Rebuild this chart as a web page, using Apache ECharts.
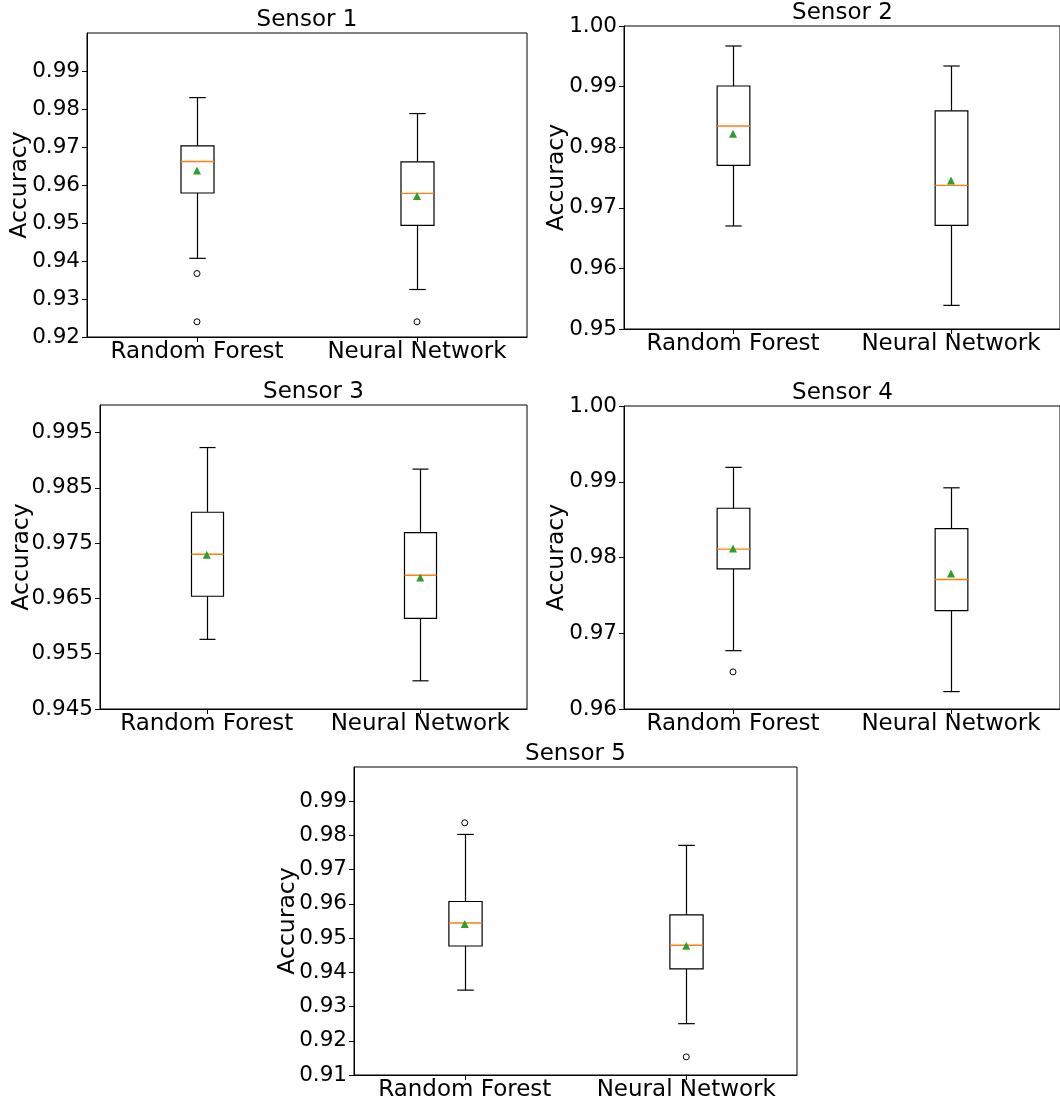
<!DOCTYPE html>
<html>
<head>
<meta charset="utf-8">
<script src="https://cdn.jsdelivr.net/npm/echarts@6/dist/echarts.min.js"></script>
<style>
html, body { margin: 0; padding: 0; background: #fff; }
#chart { width: 1060px; height: 1104px; }
</style>
</head>
<body>
<div id="chart"></div>
<script>
// ---------------- DATA ----------------
const categories = ['Random Forest', 'Neural Network'];
const titles = ['Sensor 1', 'Sensor 2', 'Sensor 3', 'Sensor 4', 'Sensor 5'];
const yAxisName = 'Accuracy';

// y tick labels per panel
const yTicks1 = ['0.92', '0.93', '0.94', '0.95', '0.96', '0.97', '0.98', '0.99'];
const yTicks2 = ['0.95', '0.96', '0.97', '0.98', '0.99', '1.00'];
const yTicks3 = ['0.945', '0.955', '0.965', '0.975', '0.985', '0.995'];
const yTicks4 = ['0.96', '0.97', '0.98', '0.99', '1.00'];
const yTicks5 = ['0.91', '0.92', '0.93', '0.94', '0.95', '0.96', '0.97', '0.98', '0.99'];
const yMins = [0.92, 0.95, 0.945, 0.96, 0.91];
const yMaxs = [1.0, 1.0, 1.0, 1.0, 1.0];

// box stats per category: [lower whisker, Q1, median, Q3, upper whisker]
const box1 = [[0.9407, 0.9579, 0.9662, 0.9703, 0.9830], [0.9325, 0.9494, 0.9578, 0.9661, 0.9788]];
const box2 = [[0.9670, 0.9770, 0.9835, 0.9901, 0.9967], [0.9539, 0.9671, 0.9737, 0.9860, 0.9934]];
const box3 = [[0.9576, 0.9654, 0.9730, 0.9806, 0.9923], [0.9501, 0.9614, 0.9692, 0.9769, 0.9884]];
const box4 = [[0.9677, 0.9785, 0.9811, 0.9865, 0.9919], [0.9623, 0.9730, 0.9771, 0.9838, 0.9892]];
const box5 = [[0.9348, 0.9477, 0.9544, 0.9607, 0.9803], [0.9250, 0.9410, 0.9479, 0.9568, 0.9771]];

// means per category
const mean1 = [0.9638, 0.9571];
const mean2 = [0.9822, 0.9745];
const mean3 = [0.9729, 0.9688];
const mean4 = [0.9812, 0.9779];
const mean5 = [0.9541, 0.9478];

// outliers: [category index, value]
const out1 = [[0, 0.9367], [0, 0.9240], [1, 0.9240]];
const out2 = [];
const out3 = [];
const out4 = [[0, 0.9649]];
const out5 = [[0, 0.9837], [1, 0.9153]];

// ---------------- LAYOUT / STYLE ----------------
const FONT = 'DejaVu Sans';
const grids = [
  { left: 87, top: 33, width: 440, height: 304 },
  { left: 624, top: 26, width: 437, height: 303 },
  { left: 100, top: 405, width: 427, height: 304 },
  { left: 624, top: 406, width: 437, height: 303 },
  { left: 354, top: 767, width: 443, height: 308 }
];
const nameGaps = [55, 55, 66, 55, 54];

const yTicksAll = [yTicks1, yTicks2, yTicks3, yTicks4, yTicks5];
const boxesAll = [box1, box2, box3, box4, box5];
const meansAll = [mean1, mean2, mean3, mean4, mean5];
const outAll = [out1, out2, out3, out4, out5];

function renderBox(params, api) {
  const ci = api.value(0);
  const lo = api.value(1), q1 = api.value(2), med = api.value(3), q3 = api.value(4), hi = api.value(5);
  const band = api.size([1, 0])[0];
  const bw = band * 0.15;
  const cw = bw * 0.5;
  const pLo = api.coord([ci, lo]);
  const pQ1 = api.coord([ci, q1]);
  const pMed = api.coord([ci, med]);
  const pQ3 = api.coord([ci, q3]);
  const pHi = api.coord([ci, hi]);
  const cx = Math.round(pLo[0]) + 0.5;
  const ls = { stroke: '#000', lineWidth: 1.2, fill: null };
  return {
    type: 'group',
    children: [
      { type: 'line', shape: { x1: cx, y1: pQ1[1], x2: cx, y2: pLo[1] }, style: ls },
      { type: 'line', shape: { x1: cx, y1: pQ3[1], x2: cx, y2: pHi[1] }, style: ls },
      { type: 'line', shape: { x1: cx - cw / 2, y1: pLo[1], x2: cx + cw / 2, y2: pLo[1] }, style: ls },
      { type: 'line', shape: { x1: cx - cw / 2, y1: pHi[1], x2: cx + cw / 2, y2: pHi[1] }, style: ls },
      { type: 'rect', shape: { x: cx - bw / 2, y: pQ3[1], width: bw, height: pQ1[1] - pQ3[1] },
        style: { stroke: '#000', fill: '#fff', lineWidth: 1.2 } },
      { type: 'line', shape: { x1: cx - bw / 2, y1: pMed[1], x2: cx + bw / 2, y2: pMed[1] },
        style: { stroke: '#ff7f0e', lineWidth: 1.4, fill: null } }
    ]
  };
}

const option = {
  animation: false,
  backgroundColor: '#fff',
  title: [],
  grid: [],
  xAxis: [],
  yAxis: [],
  series: []
};

grids.forEach((g, i) => {
  option.grid.push({
    left: g.left, top: g.top, width: g.width, height: g.height,
    show: true, borderColor: '#000', borderWidth: 1, backgroundColor: 'transparent',
    containLabel: false
  });
  option.title.push({
    text: titles[i],
    left: g.left + g.width / 2,
    top: g.top - 24,
    textAlign: 'center',
    padding: 0,
    textStyle: { fontFamily: FONT, fontSize: 23, fontWeight: 'normal', color: '#000' }
  });
  option.xAxis.push({
    gridIndex: i,
    type: 'category',
    data: categories,
    boundaryGap: true,
    axisLine: { show: true, lineStyle: { color: '#000', width: 1 } },
    axisTick: { show: true, alignWithLabel: true, length: 5, lineStyle: { color: '#000', width: 1 } },
    axisLabel: { interval: 0, fontFamily: FONT, fontSize: 23, color: '#000', margin: 4 },
    splitLine: { show: false }
  });
  const ticks = yTicksAll[i];
  const vals = ticks.map(parseFloat);
  option.yAxis.push({
    gridIndex: i,
    type: 'value',
    min: yMins[i],
    max: yMaxs[i],
    name: yAxisName,
    nameLocation: 'middle',
    nameRotate: 90,
    nameGap: nameGaps[i],
    nameMoveOverlap: false,
    nameTextStyle: { fontFamily: FONT, fontSize: 23.5, color: '#000' },
    axisLine: { show: true, lineStyle: { color: '#000', width: 1 } },
    axisTick: { show: true, length: 5, customValues: vals, lineStyle: { color: '#000', width: 1 } },
    axisLabel: {
      customValues: vals,
      fontFamily: FONT, fontSize: 21.5, color: '#000', margin: 7,
      formatter: function (v) {
        const idx = vals.findIndex(t => Math.abs(t - v) < 1e-9);
        return idx >= 0 ? ticks[idx] : '';
      }
    },
    splitLine: { show: false }
  });
  option.series.push({
    type: 'custom',
    name: 'box' + (i + 1),
    xAxisIndex: i, yAxisIndex: i,
    renderItem: renderBox,
    encode: { x: 0, y: [1, 2, 3, 4, 5] },
    data: boxesAll[i].map((b, ci) => [ci].concat(b)),
    z: 2
  });
  option.series.push({
    type: 'scatter',
    name: 'mean' + (i + 1),
    xAxisIndex: i, yAxisIndex: i,
    symbol: 'triangle',
    symbolSize: 8,
    itemStyle: { color: '#2ca02c', opacity: 1 },
    data: meansAll[i].map((m, ci) => [ci, m]),
    z: 4
  });
  option.series.push({
    type: 'scatter',
    name: 'outliers' + (i + 1),
    xAxisIndex: i, yAxisIndex: i,
    symbol: 'circle',
    symbolSize: 6,
    itemStyle: { color: '#fff', borderColor: '#000', borderWidth: 1, opacity: 1 },
    data: outAll[i],
    z: 4
  });
});

const chart = echarts.init(document.getElementById('chart'), null, { renderer: 'canvas' });
chart.setOption(option);
</script>
</body>
</html>
